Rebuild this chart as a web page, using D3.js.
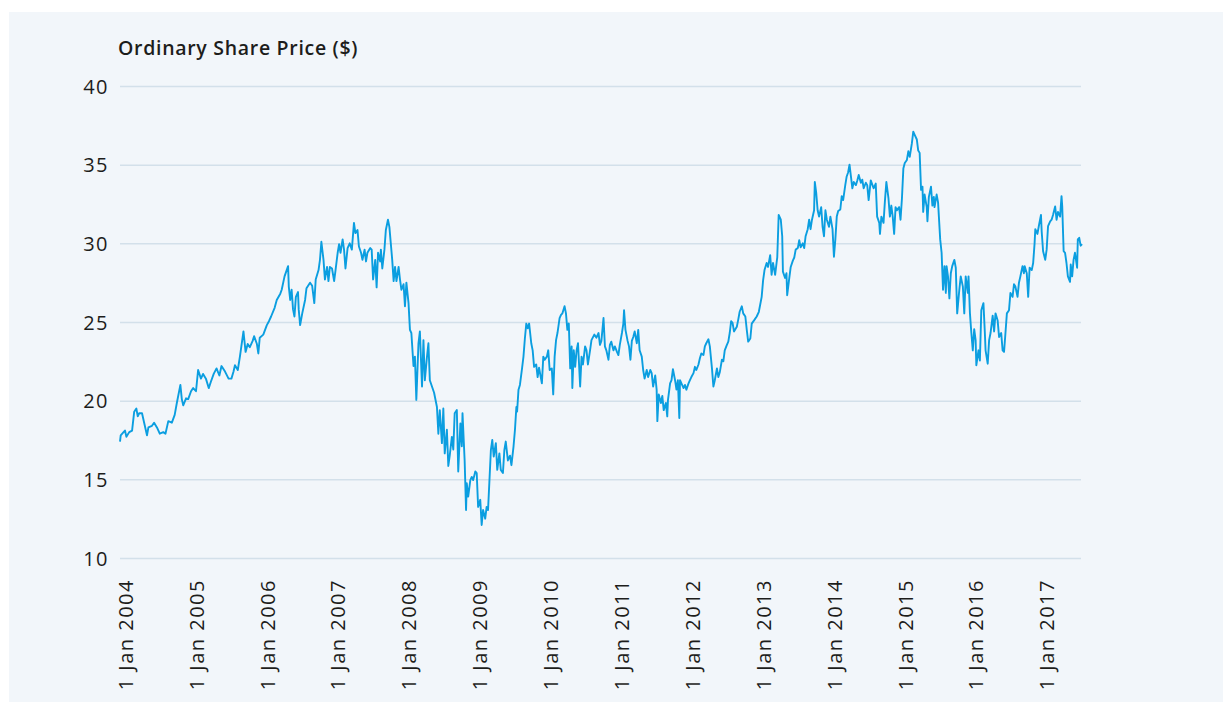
<!DOCTYPE html>
<html>
<head>
<meta charset="utf-8">
<script src="https://cdn.jsdelivr.net/npm/d3@7/dist/d3.min.js"></script>
<style>
  html, body { margin: 0; padding: 0; background: #ffffff; }
  svg { display: block; }
  text { font-family: "Open Sans", sans-serif; fill: #1d1d1b; }
</style>
</head>
<body>
<svg id="chart" width="1223" height="708"></svg>
<script>
// ---- Data (decimal year, share price in $) ----
const title = "Ordinary Share Price ($)";
const yTicks = [10, 15, 20, 25, 30, 35, 40];
const xTickYears = [2004, 2005, 2006, 2007, 2008, 2009, 2010, 2011, 2012, 2013, 2014, 2015, 2016, 2017];
const dateYears = [
  2004.00,2004.01,2004.05,2004.07,2004.09,2004.13,2004.17,2004.20,2004.23,2004.25,2004.27,2004.31,2004.34,2004.38,2004.40,2004.45,2004.48,2004.52,2004.56,2004.61,2004.64,2004.68,2004.73,2004.77,2004.80,2004.85,2004.87,2004.89,2004.93,2004.96,
  2005.00,2005.03,2005.07,2005.10,2005.14,2005.17,2005.21,2005.25,2005.28,2005.32,2005.36,2005.40,2005.43,2005.48,2005.53,2005.57,2005.60,2005.62,2005.66,2005.69,2005.74,2005.77,2005.80,2005.83,2005.87,2005.89,2005.93,2005.95,2005.97,
  2006.02,2006.07,2006.10,2006.13,2006.18,2006.21,2006.26,2006.28,2006.32,2006.37,2006.38,2006.40,2006.42,2006.44,2006.46,2006.48,2006.51,2006.52,2006.54,2006.57,2006.61,2006.63,2006.68,2006.71,2006.74,2006.76,2006.80,2006.82,2006.84,2006.87,2006.89,2006.92,2006.94,2006.96,2006.99,
  2007.02,2007.04,2007.07,2007.09,2007.11,2007.14,2007.16,2007.18,2007.21,2007.24,2007.27,2007.30,2007.32,2007.35,2007.37,2007.40,2007.42,2007.45,2007.47,2007.49,2007.53,2007.55,2007.57,2007.60,2007.62,2007.64,2007.67,2007.68,2007.70,2007.73,2007.75,2007.78,2007.80,2007.82,2007.84,2007.86,2007.88,2007.90,2007.93,2007.95,2007.97,
  2008.00,2008.02,2008.04,2008.07,2008.09,2008.11,2008.14,2008.16,2008.18,2008.21,2008.23,2008.26,2008.28,2008.30,2008.33,2008.35,2008.37,2008.40,2008.43,2008.47,2008.49,2008.51,2008.54,2008.56,2008.58,2008.61,2008.63,2008.65,2008.68,2008.70,2008.72,2008.75,2008.77,2008.80,2008.82,2008.83,2008.86,2008.88,2008.89,2008.91,2008.94,2008.96,2008.98,
  2009.01,2009.03,2009.05,2009.08,2009.10,2009.12,2009.15,2009.17,2009.19,2009.21,2009.23,2009.25,2009.27,2009.30,2009.32,2009.35,2009.37,2009.40,2009.42,2009.44,2009.47,2009.50,2009.52,2009.55,2009.57,2009.59,2009.60,2009.62,2009.64,2009.67,2009.69,2009.71,2009.73,2009.75,2009.77,2009.80,2009.82,2009.84,2009.87,2009.89,2009.91,2009.95,2009.97,2009.99,
  2010.02,2010.04,2010.06,2010.09,2010.11,2010.13,2010.15,2010.17,2010.20,2010.22,2010.24,2010.27,2010.29,2010.31,2010.33,2010.35,2010.37,2010.38,2010.40,2010.42,2010.44,2010.46,2010.49,2010.51,2010.53,2010.56,2010.58,2010.60,2010.63,2010.65,2010.69,2010.72,2010.75,2010.77,2010.79,2010.82,2010.84,2010.86,2010.89,2010.91,2010.93,2010.96,2010.98,
  2011.01,2011.03,2011.05,2011.08,2011.10,2011.11,2011.13,2011.16,2011.18,2011.20,2011.22,2011.24,2011.26,2011.29,2011.31,2011.33,2011.36,2011.38,2011.40,2011.43,2011.45,2011.48,2011.50,2011.52,2011.55,2011.57,2011.58,2011.60,2011.63,2011.65,2011.67,2011.70,2011.72,2011.73,2011.76,2011.78,2011.80,2011.83,2011.85,2011.87,2011.89,2011.90,2011.92,2011.95,2011.97,2011.99,
  2012.02,2012.04,2012.06,2012.09,2012.11,2012.13,2012.16,2012.18,2012.20,2012.23,2012.25,2012.27,2012.30,2012.32,2012.35,2012.37,2012.39,2012.42,2012.44,2012.46,2012.49,2012.51,2012.53,2012.56,2012.58,2012.60,2012.62,2012.64,2012.66,2012.70,2012.72,2012.74,2012.77,2012.79,2012.82,2012.84,2012.86,2012.89,2012.91,2012.95,2012.98,
  2013.01,2013.05,2013.07,2013.09,2013.12,2013.14,2013.17,2013.19,2013.21,2013.24,2013.26,2013.27,2013.29,2013.32,2013.34,2013.35,2013.38,2013.40,2013.41,2013.44,2013.46,2013.49,2013.51,2013.53,2013.56,2013.58,2013.60,2013.63,2013.65,2013.67,2013.70,2013.72,2013.74,2013.76,2013.79,2013.80,2013.82,2013.84,2013.86,2013.89,2013.91,2013.93,2013.95,2013.97,
  2014.00,2014.02,2014.05,2014.07,2014.09,2014.11,2014.13,2014.16,2014.18,2014.20,2014.23,2014.25,2014.27,2014.29,2014.31,2014.33,2014.35,2014.38,2014.40,2014.42,2014.45,2014.47,2014.49,2014.52,2014.54,2014.56,2014.59,2014.61,2014.63,2014.66,2014.68,2014.71,2014.72,2014.74,2014.77,2014.79,2014.81,2014.84,2014.86,2014.88,2014.90,2014.92,2014.94,2014.96,2014.99,
  2015.01,2015.03,2015.05,2015.07,2015.10,2015.12,2015.14,2015.17,2015.19,2015.21,2015.24,2015.26,2015.28,2015.30,2015.32,2015.33,2015.35,2015.38,2015.39,2015.41,2015.44,2015.46,2015.48,2015.49,2015.52,2015.54,2015.57,2015.59,2015.61,2015.63,2015.65,2015.66,2015.68,2015.70,2015.72,2015.74,2015.77,2015.79,2015.81,2015.84,2015.86,2015.89,2015.91,2015.93,2015.96,2015.97,2015.99,
  2016.01,2016.03,2016.05,2016.07,2016.08,2016.11,2016.13,2016.15,2016.18,2016.20,2016.21,2016.24,2016.26,2016.28,2016.31,2016.33,2016.35,2016.38,2016.40,2016.43,2016.45,2016.47,2016.49,2016.51,2016.54,2016.56,2016.59,2016.61,2016.63,2016.66,2016.68,2016.70,2016.73,2016.75,2016.76,2016.79,2016.81,2016.83,2016.86,2016.88,2016.90,2016.91,2016.94,2016.96,2016.99,
  2017.00,2017.02,2017.05,2017.07,2017.09,2017.12,2017.14,2017.16,2017.19,2017.21,2017.23,2017.26,2017.28,2017.29,2017.31,2017.33,2017.35,2017.37,2017.40,2017.41,2017.43,2017.45,2017.47,2017.50,2017.51,2017.53,2017.55,2017.57
];
const prices = [
  17.4,17.8,18.0,18.1,17.7,18.0,18.1,19.3,19.5,19.0,19.2,19.2,18.6,17.8,18.3,18.4,18.6,18.3,17.9,18.0,17.9,18.7,18.6,19.1,19.85,21.0,20.1,19.7,20.15,20.1,
  20.6,20.8,20.6,21.95,21.4,21.7,21.4,20.8,21.2,21.7,22.05,21.6,22.2,21.85,21.4,21.4,21.85,22.25,21.95,22.8,24.4,23.1,23.6,23.4,23.8,24.1,23.6,23.0,24.0,
  24.2,24.8,25.05,25.35,25.9,26.4,26.8,27.05,27.9,28.55,27.25,26.4,27.05,25.8,25.35,26.6,26.9,25.8,24.8,25.55,26.4,27.15,27.5,27.3,26.2,27.7,28.3,28.95,30.1,28.95,27.7,28.5,27.6,28.5,28.4,
  27.6,28.3,29.4,29.95,29.4,30.25,29.6,28.4,29.7,30.0,29.6,31.3,30.65,30.85,29.8,29.4,28.95,29.6,28.85,29.4,29.7,29.6,27.7,28.95,27.2,29.4,28.85,29.6,28.4,29.6,30.85,31.5,31.05,30.0,28.95,27.6,28.5,27.6,28.5,27.7,27.05,
  27.4,26.0,27.5,26.2,24.5,24.3,22.2,22.8,20.05,23.65,24.4,20.9,23.85,21.3,22.8,23.65,21.3,20.9,20.5,19.6,17.9,19.4,17.3,19.5,16.65,18.15,15.85,16.5,17.7,16.9,19.2,19.4,15.5,18.55,17.1,19.2,16.2,13.05,14.75,13.9,14.95,15.15,14.95,
  15.5,15.4,13.25,13.7,12.1,13.05,12.5,13.25,13.05,14.95,16.85,17.5,16.45,17.3,15.6,16.65,15.6,15.4,16.85,17.4,16.2,16.5,15.9,17.1,18.15,19.6,19.3,20.7,21.0,22.05,22.8,23.95,24.9,24.6,24.9,23.65,23.2,22.15,22.3,21.5,22.1,21.1,22.8,22.6,
  22.8,23.2,21.95,22.05,20.4,22.8,23.85,24.3,25.25,25.45,25.55,26.0,25.55,24.5,24.9,22.05,23.45,20.8,23.2,22.15,23.2,23.65,20.9,22.8,22.3,23.45,23.2,22.3,23.2,23.85,24.2,24.0,24.3,23.55,23.8,25.25,23.45,23.2,22.6,23.55,23.75,23.2,23.45,
  23.1,22.9,23.55,24.3,24.9,25.75,24.5,23.8,23.45,22.6,23.8,24.05,24.4,23.65,24.5,23.2,22.8,21.95,21.4,21.95,21.5,21.95,21.75,20.9,21.6,20.7,18.7,20.4,19.85,20.3,19.4,19.85,19.0,20.05,21.1,21.3,22.0,21.3,20.7,21.3,18.9,21.3,21.1,20.8,21.0,20.7,
  21.1,21.3,21.5,21.75,22.15,21.95,22.3,22.7,23.0,22.9,23.45,23.65,23.9,23.45,22.05,20.9,21.3,22.05,21.5,21.8,22.6,22.5,23.2,23.55,23.75,24.3,25.05,24.95,24.4,24.7,25.15,25.65,26.0,25.55,25.35,24.5,23.75,23.95,24.9,25.15,25.35,
  25.65,26.6,27.65,28.3,28.75,28.5,29.25,28.0,28.75,28.0,28.75,29.1,31.8,31.5,30.45,28.2,27.8,28.1,26.7,27.8,28.5,28.9,29.1,29.6,29.7,30.2,29.75,30.0,29.7,30.45,30.9,31.5,30.9,31.5,32.1,33.9,33.2,32.1,31.7,32.3,31.05,30.45,32.1,31.5,
  31.05,31.7,30.9,29.15,30.25,31.7,32.05,32.15,33.0,32.75,33.7,34.25,34.5,35.0,34.25,33.5,33.9,33.7,34.0,34.35,33.85,34.05,33.5,33.85,33.7,32.75,34.0,33.75,33.5,33.8,31.7,31.3,30.6,31.7,31.3,32.7,33.9,32.85,31.7,32.4,31.7,30.6,32.3,32.1,32.3,
  31.5,32.85,34.75,35.1,35.3,35.85,35.5,36.35,37.1,36.9,36.6,35.9,35.75,33.4,33.6,32.0,33.1,32.3,31.4,32.95,33.6,32.4,32.95,32.3,33.1,32.6,30.25,29.4,27.05,28.55,26.85,28.55,27.9,26.5,28.1,28.55,28.95,28.45,25.55,27.05,27.9,27.25,25.55,27.9,26.85,27.9,25.55,
  24.3,23.2,24.55,23.85,22.25,23.2,22.55,25.75,26.2,24.3,23.2,22.35,23.85,24.3,25.4,24.4,25.55,25.1,24.05,24.3,23.2,23.1,24.3,25.55,25.75,26.85,26.6,27.4,27.25,26.6,27.5,27.9,28.55,28.1,28.55,28.1,26.6,28.45,28.3,28.75,30.0,30.9,30.6,31.1,31.8,
  30.75,29.5,28.95,29.6,31.1,31.4,31.5,31.8,32.35,31.5,32.0,31.7,33.0,32.35,29.5,29.4,28.75,27.9,27.55,28.65,27.9,28.95,29.4,28.45,30.25,30.35,29.85,29.95
];

// convert decimal year to a UTC Date
function yearToDate(y) {
  const yr = Math.floor(y);
  const start = Date.UTC(yr, 0, 1), end = Date.UTC(yr + 1, 0, 1);
  return new Date(start + (y - yr) * (end - start));
}
const series = dateYears.map((y, i) => ({ date: yearToDate(y), value: prices[i] }));

// ---- Layout ----
const svg = d3.select("#chart");
const W = 1223, H = 708;
const plot = { left: 120, right: 1081, top: 86, bottom: 558 };

svg.append("rect").attr("x", 9).attr("y", 12).attr("width", W - 9).attr("height", 690)
  .attr("fill", "#f2f6fa");

const x = d3.scaleUtc()
  .domain([yearToDate(2004.0), yearToDate(2017.555)])
  .range([plot.left, plot.right]);
const y = d3.scaleLinear().domain([10, 40]).range([plot.bottom, plot.top]);

// gridlines + y labels
const yAxis = d3.axisLeft(y).tickValues(yTicks).tickSize(-(plot.right - plot.left)).tickPadding(11);
const gy = svg.append("g").attr("transform", `translate(${plot.left},0)`).call(yAxis);
gy.select(".domain").remove();
gy.selectAll(".tick line").attr("stroke", "#d3e0ea").attr("stroke-width", 1.5);
gy.selectAll(".tick text").attr("font-size", 20).attr("fill", "#1d1d1b")
  .style("font-family", "'Open Sans', sans-serif")
  .style("letter-spacing", "1.5px")
  .attr("dy", "0.36em");

// x labels (rotated)
const xAxis = d3.axisBottom(x)
  .tickValues(xTickYears.map(v => yearToDate(v)))
  .tickFormat(d3.utcFormat("1 Jan %Y"))
  .tickSize(0);
const gx = svg.append("g").attr("transform", `translate(0,${plot.bottom})`).call(xAxis);
gx.select(".domain").remove();
gx.selectAll(".tick text")
  .attr("font-size", 20).attr("fill", "#1d1d1b")
  .style("font-family", "'Open Sans', sans-serif")
  .style("letter-spacing", "1.5px")
  .attr("text-anchor", "end")
  .attr("transform", "translate(5,21) rotate(-90)")
  .attr("x", 0).attr("y", 0).attr("dy", "0.36em");

// line
const line = d3.line().x(d => x(d.date)).y(d => y(d.value));
svg.append("path").datum(series)
  .attr("d", line)
  .attr("fill", "none")
  .attr("stroke", "#0b9ee0")
  .attr("stroke-width", 1.9)
  .attr("stroke-linejoin", "round");

// title
svg.append("text").attr("x", 118).attr("y", 55)
  .attr("font-size", 19.5).attr("font-weight", 600)
  .style("font-family", "'Open Sans', sans-serif")
  .style("letter-spacing", "0.7px")
  .text(title);
</script>
</body>
</html>
